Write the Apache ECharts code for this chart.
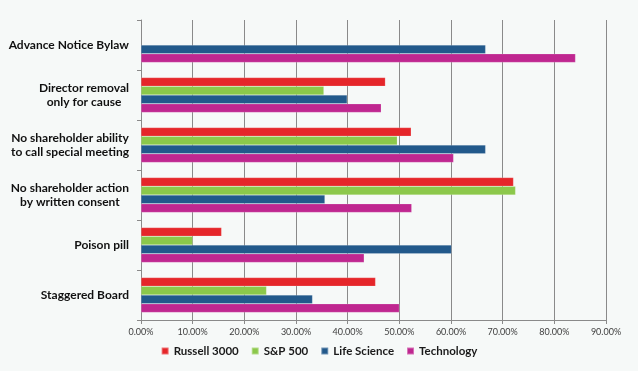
<!DOCTYPE html>
<html>
<head>
<meta charset="utf-8">
<script src="https://cdn.jsdelivr.net/npm/echarts@6/dist/echarts.min.js"></script>
<style>
html,body{margin:0;padding:0;background:#f6f9f8;}
#c{width:638px;height:371px;}
</style>
</head>
<body>
<div id="c"></div>
<script>
var categories = [
  "Advance Notice Bylaw",
  "Director removal\nonly for cause",
  "No shareholder ability\nto call special meeting",
  "No shareholder action\nby written consent",
  "Poison pill",
  "Staggered Board"
];
var russell3000 = [null, 47.3, 52.3, 72.1, 15.6, 45.4];
var sp500       = [null, 35.4, 49.6, 72.5, 10.0, 24.3];
var lifeScience = [66.7, 39.9, 66.7, 35.6, 60.1, 33.2];
var technology  = [84.1, 46.5, 60.5, 52.4, 43.2, 50.0];
var seriesNames = ["Russell 3000", "S&P 500", "Life Science", "Technology"];
var xTicks = [0, 10, 20, 30, 40, 50, 60, 70, 80, 90];

var colors = ["#e5262a", "#8cc84b", "#22598b", "#bf2790"];
var FONT = "Lato";

var chart = echarts.init(document.getElementById('c'), null, {renderer: 'canvas'});
function mk(name, data, i) {
  return {
    name: name, type: 'bar', data: data,
    barGap: '0%', barCategoryGap: '30%',
    itemStyle: {color: colors[i], borderColor: 'rgba(255,255,255,0.35)', borderWidth: 0.5},
    emphasis: {disabled: true}
  };
}
chart.setOption({
  backgroundColor: '#f6f9f8',
  animation: false,
  color: colors,
  grid: {left: 141, right: 32, top: 20, bottom: 51, containLabel: false},
  legend: {
    data: seriesNames, bottom: 9, left: 'center',
    itemWidth: 7, itemHeight: 7, itemGap: 12, icon: 'rect',
    textStyle: {fontFamily: FONT, fontWeight: 'bold', fontSize: 11.5, color: '#1a1a1a'}
  },
  xAxis: {
    type: 'value', min: xTicks[0], max: xTicks[xTicks.length-1], interval: 10,
    axisLine: {show: true, lineStyle: {color: '#8a8a8a', width: 1}},
    axisTick: {show: true, length: 4, lineStyle: {color: '#8a8a8a'}},
    splitLine: {show: true, lineStyle: {color: '#8a8a8a', width: 1}},
    axisLabel: {
      fontFamily: FONT, fontSize: 9, color: '#404040', margin: 8,
      formatter: function (v) { return v.toFixed(2) + '%'; }
    }
  },
  yAxis: {
    type: 'category', data: categories, inverse: true,
    axisLine: {show: true, lineStyle: {color: '#8a8a8a', width: 1}},
    axisTick: {show: true, length: 4, lineStyle: {color: '#8a8a8a'}},
    axisLabel: {
      margin: 12,
      formatter: function (v) {
        return v.split('\n').map(function (l) { return '{c|' + l + '}'; }).join('\n');
      },
      rich: {
        c: {fontFamily: FONT, fontWeight: 'bold', fontSize: 12, color: '#111111', align: 'center', lineHeight: 14}
      }
    }
  },
  series: [
    mk(seriesNames[0], russell3000, 0),
    mk(seriesNames[1], sp500, 1),
    mk(seriesNames[2], lifeScience, 2),
    mk(seriesNames[3], technology, 3)
  ]
});
</script>
</body>
</html>
